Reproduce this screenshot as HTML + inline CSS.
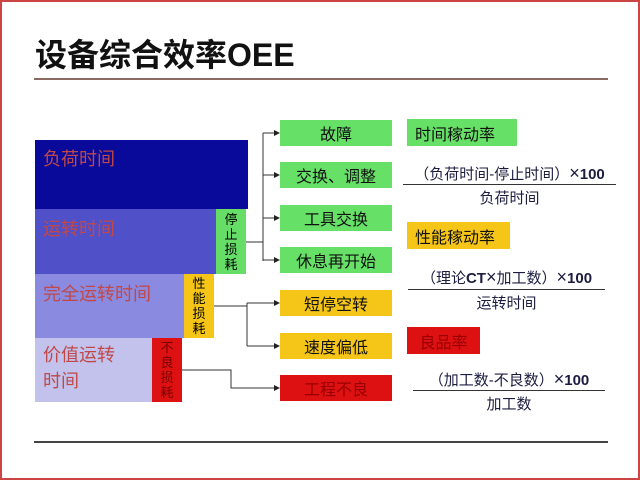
<!DOCTYPE html>
<html><head><meta charset="utf-8"><style>
body{margin:0;width:640px;height:480px;overflow:hidden;background:#fff;font-family:"Liberation Sans","Noto Sans CJK SC",sans-serif}
.f{position:absolute;box-sizing:border-box}
.t{position:absolute;white-space:nowrap}
.bx{position:absolute;display:flex;align-items:center;justify-content:center;font-size:16px;color:#111}
.v{position:absolute;display:flex;align-items:center;justify-content:center;font-size:13px;line-height:15px;text-align:center;width:30px}
.lt{position:absolute;font-size:18px;color:#c04848}
.fm{position:absolute;font-size:15px;color:#1c1c40;text-align:center;white-space:nowrap}
</style></head><body>
<div class="f" style="left:0;top:0;width:640px;height:480px;border:2px solid #c44"></div>
<div class="t" style="left:35px;top:30px;font-size:32px;font-weight:bold;color:#111">设备综合效率OEE</div>
<div class="f" style="left:34px;top:78px;width:574px;height:2px;background:#8a6a60"></div>
<div class="f" style="left:34px;top:441px;width:574px;height:2px;background:#444"></div>

<div class="f" style="left:35px;top:140px;width:213px;height:69px;background:#0a0a9a"></div>
<div class="f" style="left:35px;top:209px;width:181px;height:65px;background:#5050c8"></div>
<div class="f" style="left:35px;top:274px;width:149px;height:64px;background:#8a8ae0"></div>
<div class="f" style="left:35px;top:338px;width:117px;height:64px;background:#c2c2ec"></div>
<div class="lt" style="left:43px;top:145px">负荷时间</div>
<div class="lt" style="left:43px;top:215px">运转时间</div>
<div class="lt" style="left:43px;top:280px">完全运转时间</div>
<div class="lt" style="left:43px;top:342px;line-height:26px">价值运转<br>时间</div>
<div class="v" style="left:216px;top:209px;height:65px;background:#66dd66">停<br>止<br>损<br>耗</div>
<div class="v" style="left:184px;top:274px;height:64px;background:#f5c518">性<br>能<br>损<br>耗</div>
<div class="v" style="left:152px;top:338px;height:64px;background:#dd1111;color:#700">不<br>良<br>损<br>耗</div>

<svg class="f" style="left:0;top:0" width="640" height="480">
<defs><marker id="a" markerWidth="6" markerHeight="6" refX="5" refY="3" orient="auto"><path d="M0,0L6,3L0,6z" fill="#222"/></marker></defs>
<g stroke="#333" stroke-width="1" fill="none">
<path d="M246 242H263M263 133V261"/>
<path d="M263 133H279" marker-end="url(#a)"/>
<path d="M263 175H279" marker-end="url(#a)"/>
<path d="M263 218H279" marker-end="url(#a)"/>
<path d="M263 260H279" marker-end="url(#a)"/>
<path d="M214 306H247M247 303V346"/>
<path d="M247 303H279" marker-end="url(#a)"/>
<path d="M247 346H279" marker-end="url(#a)"/>
<path d="M182 370H231V388H279" marker-end="url(#a)"/>
</g></svg>

<div class="bx" style="left:280px;top:120px;width:112px;height:26px;background:#66e066">故障</div>
<div class="bx" style="left:280px;top:162px;width:112px;height:26px;background:#66e066">交换、调整</div>
<div class="bx" style="left:280px;top:205px;width:112px;height:26px;background:#66e066">工具交换</div>
<div class="bx" style="left:280px;top:247px;width:112px;height:26px;background:#66e066">休息再开始</div>
<div class="bx" style="left:280px;top:290px;width:112px;height:26px;background:#f5c518">短停空转</div>
<div class="bx" style="left:280px;top:333px;width:112px;height:26px;background:#f5c518">速度偏低</div>
<div class="bx" style="left:280px;top:375px;width:112px;height:26px;background:#dd1111;color:#900">工程不良</div>

<div class="bx" style="left:407px;top:119px;width:110px;height:27px;background:#66e066;justify-content:flex-start;padding-left:8px;box-sizing:border-box">时间稼动率</div>
<div class="fm" style="left:403px;top:163px;width:213px">（负荷时间-停止时间）<span style="font-size:18px">×</span><b>100</b></div>
<div class="f" style="left:403px;top:184px;width:213px;height:1px;background:#333"></div>
<div class="fm" style="left:403px;top:187px;width:213px">负荷时间</div>

<div class="bx" style="left:407px;top:222px;width:103px;height:27px;background:#f5c518;justify-content:flex-start;padding-left:8px;box-sizing:border-box">性能稼动率</div>
<div class="fm" style="left:408px;top:267px;width:197px">（理论<b>CT</b><span style="font-size:18px">×</span>加工数）<span style="font-size:18px">×</span><b>100</b></div>
<div class="f" style="left:408px;top:289px;width:197px;height:1px;background:#333"></div>
<div class="fm" style="left:408px;top:292px;width:197px">运转时间</div>

<div class="bx" style="left:407px;top:327px;width:73px;height:27px;background:#dd1111;color:#900">良品率</div>
<div class="fm" style="left:413px;top:369px;width:192px">（加工数-不良数）<span style="font-size:18px">×</span><b>100</b></div>
<div class="f" style="left:413px;top:390px;width:192px;height:1px;background:#333"></div>
<div class="fm" style="left:413px;top:393px;width:192px">加工数</div>
</body></html>
